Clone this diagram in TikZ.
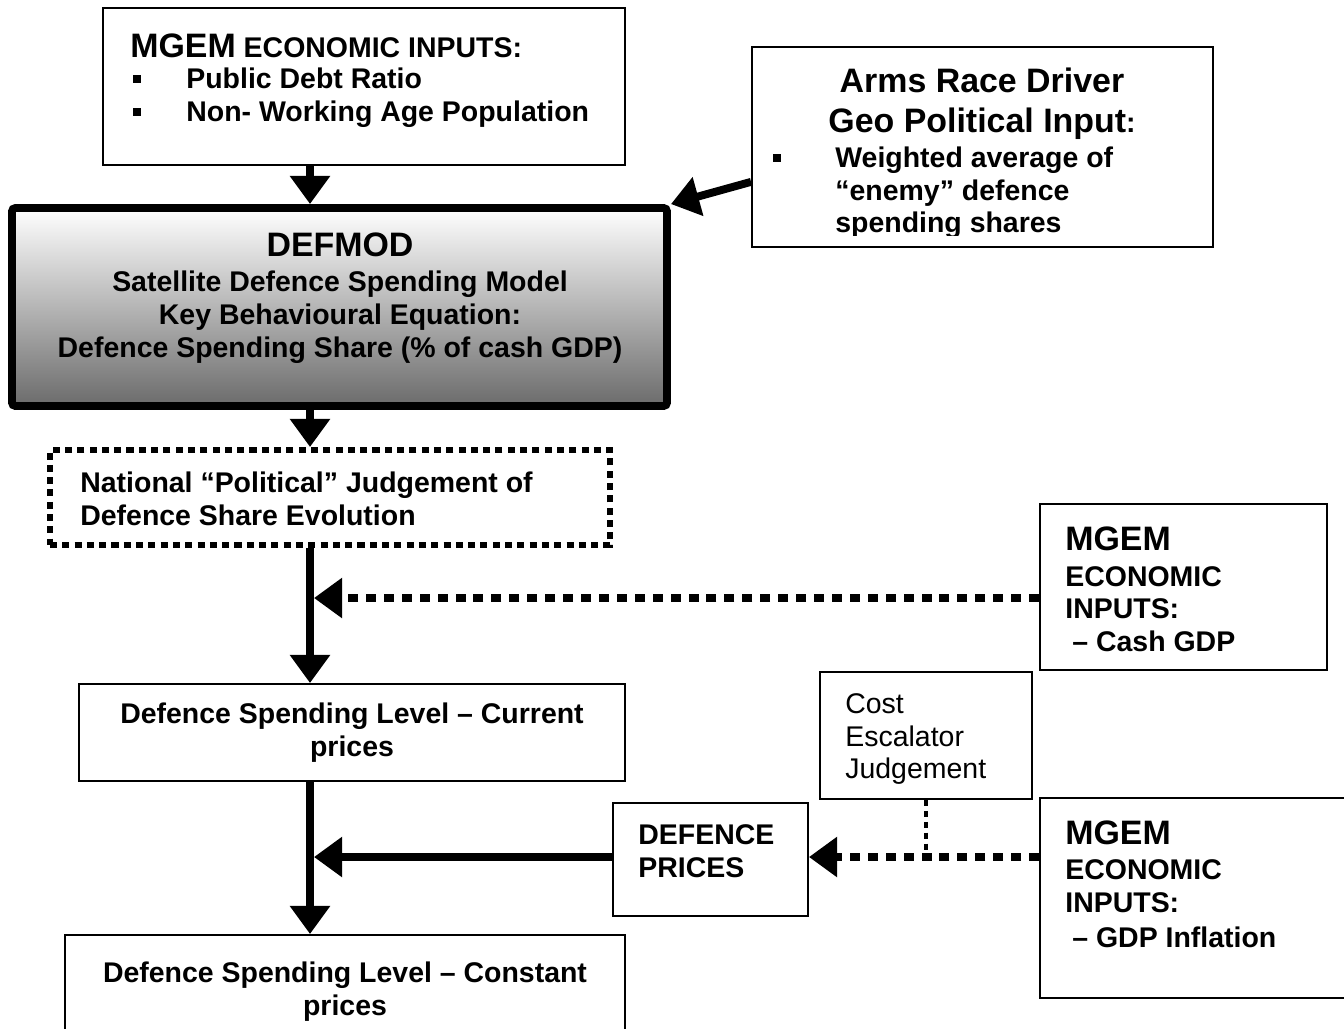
\documentclass[tikz,border=0pt]{standalone}
\usepackage{fontspec}
\setmainfont{Liberation Sans}
\usetikzlibrary{arrows.meta,fit}

% text sizes (1px of the sketch = 0.567pt)
\newcommand{\normtxt}{\fontsize{16.2}{18.7}\selectfont\bfseries}
\newcommand{\regtxt}{\fontsize{16.2}{18.7}\selectfont}
\newcommand{\bigtxt}{\fontsize{19.3}{22.7}\selectfont\bfseries}

\tikzset{
  box/.style={draw, line width=1.1pt, inner sep=0pt},
  txt/.style={anchor=base west, inner sep=0pt, font=\normtxt},
  ctxt/.style={anchor=base, inner sep=0pt, font=\normtxt},
  bul/.style={fill, inner sep=0pt, minimum size=4.6pt},
  thickarrow/.style={line width=4.5pt, -{Triangle[width=22pt,length=16pt]}},
  dotarrow/.style={line width=4.5pt, dash pattern=on 5.7pt off 4.5pt,
    -{Triangle[width=22pt,length=16pt]}},
}

\begin{document}
\begin{tikzpicture}[x=0.02cm,y=-0.02cm]
    \useasboundingbox (0,0) rectangle (1344,1028);
    \clip (0,0) rectangle (1344,1028);

    % Top input box
    \node[box, fit={(103,8) (625,165)}] (mgemtop) {};
    \node[txt] (top1) at (130,57) {{\bigtxt MGEM} ECONOMIC INPUTS:};
    \node[bul] (top2b) at (137,79) {};
    \node[txt] (top2) at (186,88) {Public Debt Ratio};
    \node[bul] (top3b) at (137,112) {};
    \node[txt] (top3) at (186,121) {Non- Working Age Population};

    % Arms race box
    \node[box, fit={(752,47) (1213,247)}] (arms) {};
    \node[ctxt, font=\bigtxt] (arms1) at (982,92) {Arms Race Driver};
    \node[ctxt] (arms2) at (982,132) {{\bigtxt Geo Political Input}:};
    \node[bul] (arms3b) at (777,158) {};
    \begin{scope}
      \clip (752,47) rectangle (1213,235);
      \node[txt] (arms3) at (835,167) {Weighted average of};
      \node[txt] (arms4) at (835,200) {“enemy” defence};
      \node[txt] (arms5) at (835,232) {spending shares};
    \end{scope}

    % DEFMOD model box
    \node[draw, line width=4.5pt, rounded corners=2pt, inner sep=0pt,
      top color=white, bottom color=black!58,
      fit={(12,208) (667,406)}] (defmod) {};
    \node[ctxt, font=\bigtxt] (def1) at (340,256) {DEFMOD};
    \node[ctxt] (def2) at (340,291) {Satellite Defence Spending Model};
    \node[ctxt] (def3) at (340,324) {Key Behavioural Equation:};
    \node[ctxt] (def4) at (340,357) {Defence Spending Share (\% of cash GDP)};

    % National judgement box
    \node[draw, line width=3.4pt, dash pattern=on 4pt off 3pt, inner sep=0pt,
      fit={(50,450) (610,545)}] (nat) {};
    \node[txt] (nat1) at (80,492) {National “Political” Judgement of};
    \node[txt] (nat2) at (80,525) {Defence Share Evolution};

    % Cash GDP input
    \node[box, fit={(1040,504) (1327,670)}] (cash) {};
    \node[txt, font=\bigtxt] (cash1) at (1065,550) {MGEM};
    \node[txt] (cash2) at (1065,586) {ECONOMIC};
    \node[txt] (cash3) at (1065,618) {INPUTS:};
    \node[txt] (cash4) at (1072,651) {– Cash GDP};

    % Current prices level
    \node[box, fit={(79,684) (625,781)}] (cur) {};
    \node[ctxt] (cur1) at (352,723) {Defence Spending Level – Current};
    \node[ctxt] (cur2) at (352,756) {prices};

    % Cost escalator judgement
    \node[box, fit={(820,672) (1032,799)}] (cost) {};
    \node[txt, font=\regtxt] (cost1) at (845,713) {Cost};
    \node[txt, font=\regtxt] (cost2) at (845,746) {Escalator};
    \node[txt, font=\regtxt] (cost3) at (845,778) {Judgement};

    % Defence prices
    \node[box, fit={(613,803) (808,916)}] (dprice) {};
    \node[txt] (dprice1) at (638,844) {DEFENCE};
    \node[txt] (dprice2) at (638,877) {PRICES};

    % GDP inflation input
    \node[box, fit={(1040,798) (1360,998)}] (infl) {};
    \node[txt, font=\bigtxt] (infl1) at (1065,844) {MGEM};
    \node[txt] (infl2) at (1065,879) {ECONOMIC};
    \node[txt] (infl3) at (1065,912) {INPUTS:};
    \node[txt] (infl4) at (1072,947) {– GDP Inflation};

    % Constant prices level
    \node[box, fit={(65,935) (625,1040)}] (con) {};
    \node[ctxt] (con1) at (345,982) {Defence Spending Level – Constant};
    \node[ctxt] (con2) at (345,1015) {prices};

    % Connectors
    \coordinate (spine) at (310,0);
    \coordinate (jcash) at (314,598);
    \coordinate (jprice) at (314,857);
    \draw[thickarrow] (spine |- mgemtop.south) -- (spine |- defmod.north);
    \draw[thickarrow] ([yshift=-35pt*0.567]arms.west) -- (defmod.north east);
    \draw[thickarrow] (spine |- defmod.south) -- (spine |- nat.north);
    \draw[thickarrow] (spine |- nat.south) -- (spine |- cur.north);
    \draw[thickarrow] (spine |- cur.south) -- (spine |- con.north);
    \draw[dotarrow] (jcash -| cash.west) -- (jcash);
    \draw[thickarrow] (jprice -| dprice.west) -- (jprice);
    \draw[dotarrow] (jprice -| infl.west) -- (jprice -| dprice.east);
    \draw[line width=2.8pt, dash pattern=on 3.4pt off 2.8pt]
      (cost.south) -- (cost.south |- jprice);
\end{tikzpicture}
\end{document}
